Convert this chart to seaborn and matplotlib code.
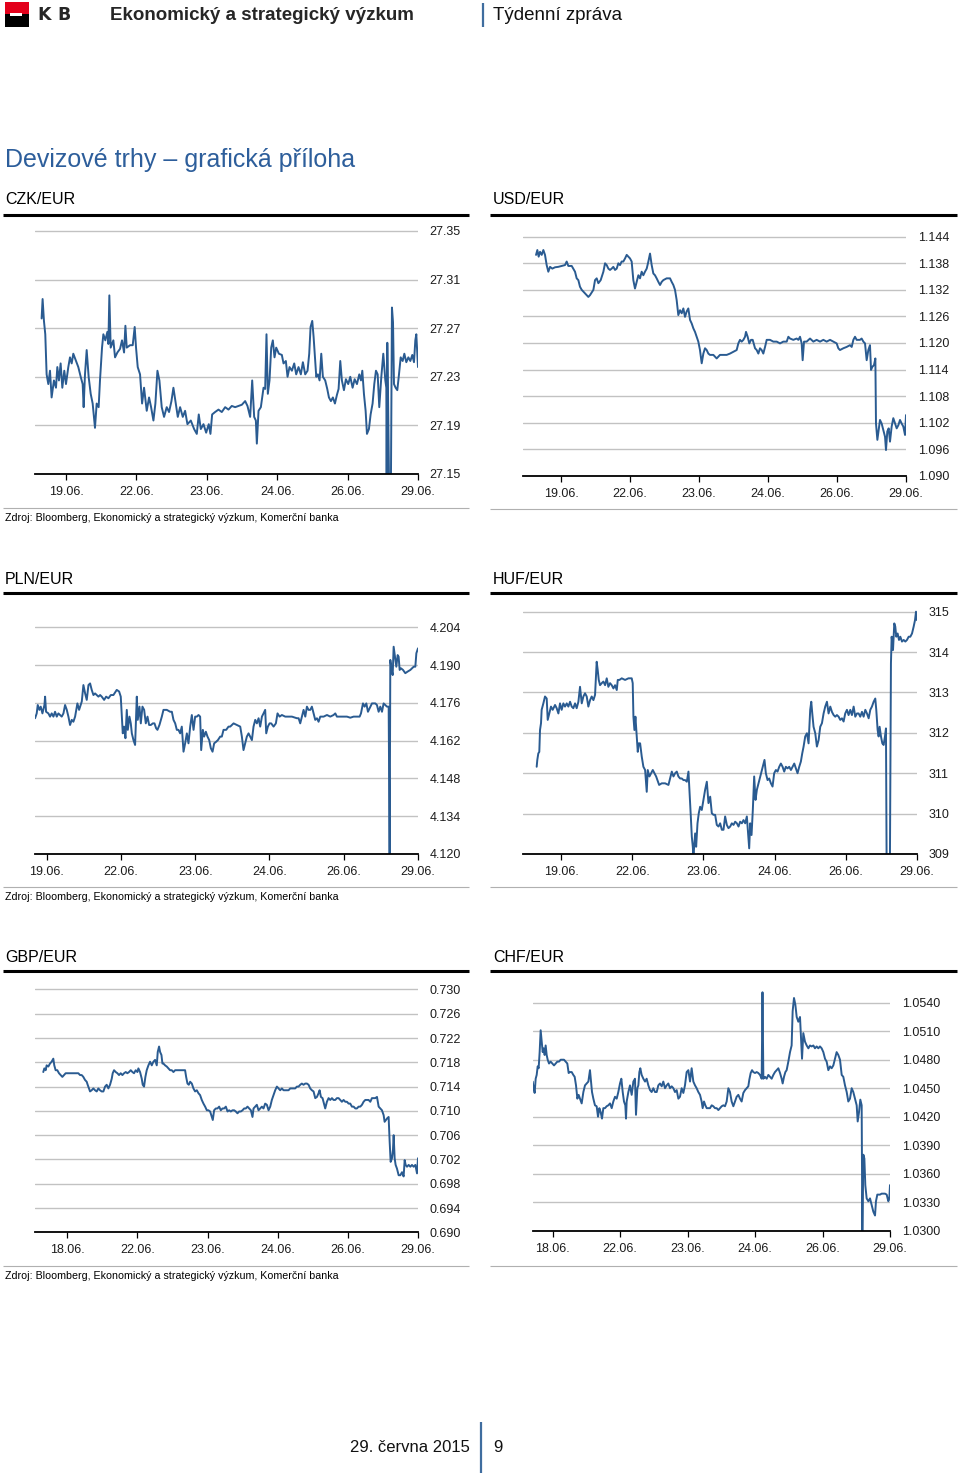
import matplotlib
matplotlib.use("Agg")
import matplotlib.pyplot as plt
import seaborn as sns
from matplotlib.lines import Line2D
from matplotlib.patches import Rectangle

# time axis: trading-day units, 0 = first labelled day, 5 = last label (29.06.)
day_labels_19 = ["19.06.", "22.06.", "23.06.", "24.06.", "26.06.", "29.06."]
day_labels_18 = ["18.06.", "22.06.", "23.06.", "24.06.", "26.06.", "29.06."]

# CZK/EUR
czk_t = [-0.346, -0.332, -0.313, -0.294, -0.275, -0.251, -0.227, -0.204, -0.171, -0.142,
         -0.123, -0.100, -0.076, -0.052, -0.024, 0.000, 0.033, 0.057, 0.081, 0.104,
         0.142, 0.175, 0.209, 0.237, 0.251, 0.270, 0.294, 0.322, 0.351, 0.379,
         0.412, 0.436, 0.464, 0.483, 0.512, 0.531, 0.559, 0.588, 0.602, 0.616,
         0.635, 0.673, 0.697, 0.730, 0.768, 0.796, 0.825, 0.844, 0.863, 0.910,
         0.948, 0.976, 0.995, 1.019, 1.052, 1.081, 1.109, 1.147, 1.180, 1.209,
         1.242, 1.270, 1.299, 1.327, 1.360, 1.393, 1.431, 1.464, 1.498, 1.526,
         1.559, 1.588, 1.621, 1.659, 1.692, 1.725, 1.773, 1.820, 1.858, 1.886,
         1.915, 1.953, 1.991, 2.028, 2.052, 2.076, 2.118, 2.166, 2.213, 2.261,
         2.308, 2.355, 2.403, 2.450, 2.498, 2.545, 2.578, 2.616, 2.645, 2.673,
         2.697, 2.711, 2.735, 2.768, 2.806, 2.829, 2.848, 2.867, 2.891, 2.915,
         2.938, 2.962, 2.986, 3.024, 3.066, 3.090, 3.123, 3.147, 3.175, 3.209,
         3.242, 3.270, 3.303, 3.336, 3.365, 3.398, 3.431, 3.455, 3.474, 3.498,
         3.517, 3.536, 3.555, 3.578, 3.602, 3.626, 3.649, 3.682, 3.711, 3.735,
         3.763, 3.791, 3.820, 3.848, 3.872, 3.896, 3.919, 3.948, 3.976, 4.009,
         4.038, 4.071, 4.100, 4.133, 4.166, 4.190, 4.209, 4.232, 4.256, 4.275,
         4.303, 4.327, 4.355, 4.379, 4.403, 4.427, 4.450, 4.479, 4.507, 4.536,
         4.550, 4.555, 4.564, 4.573, 4.588, 4.616, 4.630, 4.645, 4.659, 4.682,
         4.706, 4.730, 4.754, 4.782, 4.806, 4.834, 4.863, 4.891, 4.919, 4.943,
         4.962, 4.976, 5.000]
czk_v = [27.278, 27.294, 27.276, 27.265, 27.232, 27.224, 27.235, 27.213, 27.227, 27.221,
         27.238, 27.227, 27.241, 27.221, 27.235, 27.224, 27.238, 27.246, 27.241, 27.249,
         27.243, 27.238, 27.230, 27.224, 27.205, 27.232, 27.252, 27.230, 27.216, 27.208,
         27.188, 27.208, 27.205, 27.227, 27.254, 27.265, 27.260, 27.267, 27.257, 27.297,
         27.254, 27.260, 27.246, 27.250, 27.253, 27.260, 27.250, 27.272, 27.254, 27.256,
         27.256, 27.271, 27.254, 27.238, 27.232, 27.208, 27.221, 27.202, 27.213, 27.205,
         27.194, 27.208, 27.235, 27.227, 27.205, 27.197, 27.205, 27.201, 27.210, 27.221,
         27.208, 27.197, 27.205, 27.197, 27.202, 27.191, 27.194, 27.187, 27.183, 27.199,
         27.187, 27.191, 27.184, 27.191, 27.183, 27.199, 27.201, 27.203, 27.201, 27.205,
         27.203, 27.206, 27.205, 27.206, 27.207, 27.210, 27.206, 27.197, 27.227, 27.197,
         27.194, 27.175, 27.202, 27.205, 27.221, 27.220, 27.265, 27.216, 27.227, 27.254,
         27.260, 27.246, 27.254, 27.249, 27.248, 27.241, 27.243, 27.230, 27.238, 27.235,
         27.241, 27.232, 27.238, 27.232, 27.242, 27.232, 27.235, 27.249, 27.271, 27.276,
         27.263, 27.246, 27.230, 27.232, 27.227, 27.249, 27.230, 27.227, 27.220, 27.213,
         27.210, 27.213, 27.208, 27.215, 27.220, 27.243, 27.227, 27.219, 27.228, 27.224,
         27.230, 27.221, 27.228, 27.224, 27.232, 27.227, 27.235, 27.216, 27.202, 27.183,
         27.187, 27.199, 27.208, 27.224, 27.235, 27.232, 27.205, 27.230, 27.249, 27.227,
         27.221, 27.147, 27.258, 27.221, 27.147, 27.147, 27.287, 27.275, 27.224, 27.221,
         27.219, 27.232, 27.246, 27.243, 27.249, 27.242, 27.246, 27.243, 27.248, 27.242,
         27.260, 27.265, 27.238]
czk_ticks = [27.15, 27.19, 27.23, 27.27, 27.31, 27.35]

# USD/EUR
usd_t = [-0.362, -0.343, -0.324, -0.304, -0.280, -0.256, -0.232, -0.208, -0.184, -0.159,
         -0.126, -0.087, -0.039, 0.010, 0.058, 0.082, 0.106, 0.155, 0.203, 0.227,
         0.251, 0.275, 0.300, 0.324, 0.348, 0.372, 0.396, 0.420, 0.469, 0.493,
         0.517, 0.541, 0.575, 0.614, 0.638, 0.662, 0.686, 0.710, 0.734, 0.758,
         0.783, 0.807, 0.831, 0.855, 0.879, 0.903, 0.928, 0.952, 0.976, 1.000,
         1.024, 1.048, 1.072, 1.097, 1.121, 1.145, 1.169, 1.193, 1.217, 1.242,
         1.266, 1.290, 1.314, 1.338, 1.362, 1.386, 1.411, 1.435, 1.459, 1.483,
         1.531, 1.580, 1.604, 1.628, 1.652, 1.676, 1.700, 1.725, 1.749, 1.773,
         1.797, 1.821, 1.845, 1.870, 1.894, 1.918, 1.942, 1.966, 1.990, 2.014,
         2.039, 2.063, 2.087, 2.111, 2.135, 2.159, 2.208, 2.256, 2.280, 2.304,
         2.353, 2.401, 2.449, 2.498, 2.546, 2.570, 2.594, 2.618, 2.643, 2.667,
         2.681, 2.705, 2.729, 2.754, 2.778, 2.812, 2.836, 2.860, 2.884, 2.908,
         2.932, 2.957, 2.981, 3.029, 3.077, 3.126, 3.174, 3.222, 3.271, 3.295,
         3.319, 3.367, 3.415, 3.440, 3.464, 3.488, 3.502, 3.522, 3.560, 3.609,
         3.657, 3.705, 3.754, 3.802, 3.850, 3.899, 3.947, 3.995, 4.019, 4.043,
         4.092, 4.140, 4.188, 4.213, 4.237, 4.261, 4.285, 4.333, 4.357, 4.382,
         4.406, 4.430, 4.454, 4.478, 4.493, 4.512, 4.536, 4.556, 4.565, 4.585,
         4.604, 4.623, 4.647, 4.671, 4.696, 4.710, 4.729, 4.749, 4.768, 4.792,
         4.816, 4.841, 4.865, 4.889, 4.913, 4.937, 4.961, 4.986, 5.000]
usd_v = [1.1399, 1.1410, 1.1395, 1.1406, 1.1399, 1.1410, 1.1399, 1.1376, 1.1361, 1.1372,
         1.1368, 1.1371, 1.1372, 1.1374, 1.1376, 1.1384, 1.1374, 1.1374, 1.1361, 1.1346,
         1.1342, 1.1327, 1.1320, 1.1316, 1.1312, 1.1308, 1.1304, 1.1308, 1.1320, 1.1342,
         1.1346, 1.1335, 1.1342, 1.1361, 1.1380, 1.1376, 1.1368, 1.1365, 1.1368, 1.1372,
         1.1365, 1.1368, 1.1380, 1.1376, 1.1384, 1.1384, 1.1391, 1.1399, 1.1395, 1.1391,
         1.1384, 1.1342, 1.1323, 1.1338, 1.1353, 1.1346, 1.1361, 1.1353, 1.1361, 1.1368,
         1.1384, 1.1402, 1.1376, 1.1357, 1.1353, 1.1346, 1.1338, 1.1331, 1.1338, 1.1342,
         1.1346, 1.1346, 1.1338, 1.1331, 1.1320, 1.1297, 1.1263, 1.1274, 1.1267, 1.1278,
         1.1259, 1.1271, 1.1278, 1.1252, 1.1244, 1.1233, 1.1225, 1.1214, 1.1203, 1.1184,
         1.1154, 1.1176, 1.1188, 1.1184, 1.1176, 1.1173, 1.1173, 1.1165, 1.1169, 1.1173,
         1.1173, 1.1173, 1.1176, 1.1180, 1.1184, 1.1199, 1.1207, 1.1203, 1.1207, 1.1214,
         1.1225, 1.1214, 1.1199, 1.1207, 1.1207, 1.1188, 1.1184, 1.1176, 1.1188, 1.1184,
         1.1176, 1.1191, 1.1207, 1.1207, 1.1203, 1.1203, 1.1199, 1.1203, 1.1203, 1.1214,
         1.1210, 1.1207, 1.1210, 1.1207, 1.1214, 1.1199, 1.1161, 1.1203, 1.1203, 1.1210,
         1.1203, 1.1207, 1.1203, 1.1207, 1.1203, 1.1207, 1.1203, 1.1199, 1.1188, 1.1184,
         1.1188, 1.1191, 1.1195, 1.1191, 1.1207, 1.1214, 1.1207, 1.1207, 1.1210, 1.1203,
         1.1199, 1.1161, 1.1184, 1.1195, 1.1139, 1.1146, 1.1150, 1.1165, 1.1018, 1.0981,
         1.1003, 1.1026, 1.1018, 1.1003, 1.0988, 1.0958, 1.1000, 1.1007, 1.0977, 1.1011,
         1.1030, 1.1018, 1.1007, 1.1014, 1.1026, 1.1018, 1.1011, 1.0992, 1.1037]
usd_ticks = [1.090, 1.096, 1.102, 1.108, 1.114, 1.120, 1.126, 1.132, 1.138, 1.144]

# PLN/EUR
pln_t = [-0.157, -0.135, -0.121, -0.099, -0.081, -0.058, -0.031, -0.022, -0.009, 0.022,
         0.045, 0.067, 0.090, 0.112, 0.135, 0.157, 0.180, 0.202, 0.225, 0.247,
         0.270, 0.292, 0.314, 0.337, 0.359, 0.382, 0.413, 0.436, 0.472, 0.494,
         0.517, 0.539, 0.562, 0.584, 0.606, 0.629, 0.651, 0.674, 0.696, 0.719,
         0.741, 0.773, 0.800, 0.831, 0.863, 0.898, 0.943, 0.975, 0.997, 1.011,
         1.024, 1.042, 1.060, 1.078, 1.092, 1.114, 1.132, 1.146, 1.168, 1.190,
         1.213, 1.226, 1.249, 1.267, 1.289, 1.312, 1.334, 1.357, 1.379, 1.402,
         1.429, 1.451, 1.473, 1.491, 1.518, 1.550, 1.572, 1.617, 1.662, 1.685,
         1.707, 1.730, 1.752, 1.774, 1.797, 1.819, 1.842, 1.864, 1.887, 1.909,
         1.932, 1.954, 1.977, 1.999, 2.022, 2.044, 2.066, 2.080, 2.102, 2.120,
         2.143, 2.165, 2.188, 2.210, 2.233, 2.255, 2.282, 2.305, 2.336, 2.358,
         2.381, 2.417, 2.448, 2.471, 2.516, 2.561, 2.606, 2.628, 2.650, 2.673,
         2.695, 2.718, 2.740, 2.763, 2.785, 2.808, 2.830, 2.853, 2.875, 2.898,
         2.920, 2.942, 2.956, 2.978, 3.001, 3.023, 3.055, 3.086, 3.108, 3.136,
         3.167, 3.212, 3.257, 3.302, 3.369, 3.392, 3.414, 3.437, 3.459, 3.482,
         3.504, 3.526, 3.549, 3.571, 3.594, 3.616, 3.639, 3.661, 3.684, 3.729,
         3.774, 3.819, 3.863, 3.886, 3.908, 3.953, 3.998, 4.043, 4.088, 4.133,
         4.178, 4.214, 4.232, 4.259, 4.281, 4.304, 4.326, 4.349, 4.380, 4.403,
         4.425, 4.447, 4.470, 4.492, 4.515, 4.537, 4.560, 4.582, 4.605, 4.618,
         4.627, 4.645, 4.659, 4.672, 4.690, 4.708, 4.726, 4.739, 4.753, 4.771,
         4.798, 4.829, 4.861, 4.897, 4.942, 4.964, 4.978, 5.000]
pln_v = [4.1703, 4.1721, 4.1752, 4.1734, 4.1746, 4.1721, 4.1752, 4.1783, 4.1727, 4.1721,
         4.1709, 4.1721, 4.1709, 4.1727, 4.1709, 4.1721, 4.1715, 4.1709, 4.1721, 4.1752,
         4.1734, 4.1709, 4.1678, 4.1697, 4.1690, 4.1709, 4.1758, 4.1734, 4.1765, 4.1826,
         4.1795, 4.1771, 4.1826, 4.1832, 4.1808, 4.1789, 4.1795, 4.1789, 4.1783, 4.1789,
         4.1783, 4.1771, 4.1783, 4.1777, 4.1789, 4.1789, 4.1808, 4.1802, 4.1783, 4.1709,
         4.1647, 4.1672, 4.1629, 4.1734, 4.1660, 4.1709, 4.1684, 4.1647, 4.1622, 4.1604,
         4.1783, 4.1697, 4.1746, 4.1684, 4.1746, 4.1734, 4.1684, 4.1709, 4.1678, 4.1678,
         4.1684, 4.1684, 4.1666, 4.1660, 4.1678, 4.1709, 4.1734, 4.1734, 4.1727, 4.1727,
         4.1697, 4.1684, 4.1660, 4.1660, 4.1647, 4.1672, 4.1579, 4.1610, 4.1647, 4.1610,
         4.1672, 4.1715, 4.1660, 4.1709, 4.1709, 4.1715, 4.1709, 4.1585, 4.1660, 4.1635,
         4.1653, 4.1635, 4.1622, 4.1592, 4.1579, 4.1610, 4.1616, 4.1622, 4.1635, 4.1635,
         4.1660, 4.1660, 4.1672, 4.1672, 4.1684, 4.1678, 4.1672, 4.1635, 4.1585, 4.1610,
         4.1635, 4.1647, 4.1635, 4.1622, 4.1672, 4.1697, 4.1684, 4.1703, 4.1672, 4.1709,
         4.1721, 4.1734, 4.1647, 4.1672, 4.1684, 4.1684, 4.1672, 4.1684, 4.1721, 4.1709,
         4.1715, 4.1709, 4.1709, 4.1709, 4.1703, 4.1703, 4.1684, 4.1709, 4.1734, 4.1709,
         4.1746, 4.1734, 4.1734, 4.1746, 4.1721, 4.1697, 4.1703, 4.1690, 4.1709, 4.1709,
         4.1715, 4.1709, 4.1715, 4.1721, 4.1709, 4.1709, 4.1709, 4.1709, 4.1705, 4.1709,
         4.1709, 4.1709, 4.1721, 4.1758, 4.1746, 4.1758, 4.1727, 4.1740, 4.1758, 4.1758,
         4.1758, 4.1752, 4.1727, 4.1746, 4.1727, 4.1758, 4.1752, 4.1746, 4.1746, 4.1180,
         4.1919, 4.1882, 4.1863, 4.1968, 4.1931, 4.1894, 4.1937, 4.1931, 4.1882, 4.1888,
         4.1882, 4.1870, 4.1876, 4.1882, 4.1894, 4.1894, 4.1944, 4.1962]
pln_ticks = [4.120, 4.134, 4.148, 4.162, 4.176, 4.190, 4.204]

# HUF/EUR
huf_t = [-0.342, -0.333, -0.319, -0.305, -0.295, -0.281, -0.272, -0.248, -0.225, -0.201,
         -0.187, -0.164, -0.141, -0.117, -0.084, -0.061, -0.037, -0.014, 0.009, 0.033,
         0.056, 0.080, 0.103, 0.127, 0.150, 0.173, 0.197, 0.220, 0.244, 0.267,
         0.291, 0.314, 0.337, 0.361, 0.384, 0.408, 0.431, 0.455, 0.478, 0.501,
         0.515, 0.530, 0.548, 0.572, 0.595, 0.619, 0.642, 0.665, 0.689, 0.712,
         0.736, 0.759, 0.783, 0.797, 0.820, 0.853, 0.900, 0.947, 0.993, 1.007,
         1.017, 1.031, 1.045, 1.064, 1.078, 1.092, 1.111, 1.134, 1.157, 1.181,
         1.204, 1.218, 1.242, 1.265, 1.289, 1.312, 1.336, 1.354, 1.378, 1.415,
         1.462, 1.509, 1.532, 1.556, 1.579, 1.603, 1.626, 1.649, 1.673, 1.696,
         1.720, 1.743, 1.767, 1.790, 1.804, 1.823, 1.837, 1.851, 1.860, 1.884,
         1.898, 1.917, 1.935, 1.954, 1.977, 2.001, 2.024, 2.048, 2.071, 2.095,
         2.118, 2.141, 2.165, 2.188, 2.212, 2.235, 2.259, 2.282, 2.305, 2.329,
         2.352, 2.376, 2.399, 2.423, 2.446, 2.470, 2.493, 2.516, 2.540, 2.563,
         2.587, 2.610, 2.624, 2.643, 2.657, 2.676, 2.694, 2.713, 2.732, 2.751,
         2.774, 2.798, 2.821, 2.844, 2.858, 2.877, 2.901, 2.924, 2.948, 2.971,
         2.994, 3.018, 3.041, 3.065, 3.088, 3.112, 3.135, 3.158, 3.182, 3.205,
         3.229, 3.252, 3.276, 3.299, 3.322, 3.346, 3.369, 3.388, 3.407, 3.430,
         3.454, 3.477, 3.500, 3.515, 3.529, 3.547, 3.571, 3.594, 3.618, 3.641,
         3.665, 3.688, 3.711, 3.735, 3.758, 3.782, 3.805, 3.829, 3.852, 3.875,
         3.899, 3.922, 3.946, 3.969, 3.992, 4.016, 4.039, 4.063, 4.086, 4.110,
         4.133, 4.157, 4.180, 4.203, 4.227, 4.250, 4.274, 4.297, 4.321, 4.344,
         4.367, 4.391, 4.414, 4.428, 4.447, 4.461, 4.475, 4.494, 4.513, 4.531,
         4.550, 4.564, 4.573, 4.588, 4.606, 4.620, 4.634, 4.644, 4.663, 4.681,
         4.695, 4.709, 4.728, 4.747, 4.766, 4.789, 4.813, 4.836, 4.859, 4.883,
         4.906, 4.930, 4.953, 4.972, 4.986, 5.000]
huf_v = [311.16, 311.33, 311.49, 311.53, 312.07, 312.24, 312.57, 312.73, 312.90, 312.85,
         312.32, 312.48, 312.65, 312.57, 312.69, 312.61, 312.48, 312.73, 312.57, 312.73,
         312.65, 312.73, 312.65, 312.77, 312.65, 312.61, 312.73, 312.61, 312.77, 313.14,
         312.73, 312.90, 312.98, 312.90, 312.65, 312.81, 312.90, 312.81, 312.94, 313.76,
         313.56, 313.31, 313.18, 313.23, 313.27, 313.18, 313.35, 313.14, 313.23, 313.18,
         313.10, 313.18, 313.06, 313.31, 313.31, 313.35, 313.31, 313.35, 313.35, 313.23,
         312.40, 312.07, 312.40, 311.91, 311.53, 311.74, 311.74, 311.41, 311.16, 311.08,
         310.54, 311.08, 310.92, 311.00, 311.08, 311.00, 310.92, 310.83, 310.71, 310.75,
         310.75, 310.71, 310.87, 311.04, 310.92, 311.00, 311.04, 310.92, 310.87, 310.87,
         310.83, 310.83, 310.79, 311.04, 310.59, 309.93, 309.43, 309.18, 308.94, 309.51,
         309.18, 309.76, 310.01, 310.17, 310.09, 310.34, 310.59, 310.79, 310.26, 310.42,
         310.01, 309.97, 309.97, 309.72, 309.68, 309.76, 309.60, 309.60, 309.93, 309.72,
         309.64, 309.68, 309.76, 309.72, 309.80, 309.76, 309.68, 309.80, 309.76, 309.84,
         309.76, 309.93, 309.60, 309.14, 309.76, 309.47, 310.09, 310.92, 310.34, 310.59,
         310.75, 310.92, 311.08, 311.24, 311.33, 311.00, 310.83, 310.87, 310.75, 310.67,
         311.00, 311.08, 311.04, 311.16, 311.24, 311.16, 311.04, 311.16, 311.12, 311.16,
         311.08, 311.16, 311.24, 311.12, 311.00, 311.16, 311.29, 311.49, 311.66, 311.91,
         311.99, 311.74, 312.57, 312.77, 312.48, 312.15, 311.99, 311.66, 311.82, 312.15,
         312.24, 312.48, 312.65, 312.77, 312.48, 312.65, 312.52, 312.44, 312.40, 312.44,
         312.40, 312.32, 312.36, 312.28, 312.48, 312.57, 312.44, 312.57, 312.44, 312.65,
         312.40, 312.48, 312.48, 312.40, 312.52, 312.40, 312.57, 312.48, 312.36, 312.57,
         312.65, 312.77, 312.85, 312.57, 312.07, 311.91, 312.15, 311.91, 311.74, 311.70,
         311.91, 312.11, 308.90, 308.90, 308.90, 308.90, 313.72, 314.38, 314.05, 314.71,
         314.63, 314.38, 314.46, 314.30, 314.38, 314.26, 314.30, 314.26, 314.30, 314.38,
         314.38, 314.46, 314.63, 314.79, 315.00, 314.79]
huf_ticks = [309, 310, 311, 312, 313, 314, 315]

# GBP/EUR
gbp_t = [-0.343, -0.328, -0.309, -0.295, -0.271, -0.247, -0.224, -0.200, -0.186, -0.167,
         -0.143, -0.119, -0.095, -0.071, -0.048, -0.024, 0.000, 0.024, 0.048, 0.086,
         0.124, 0.157, 0.181, 0.205, 0.228, 0.252, 0.276, 0.290, 0.309, 0.324,
         0.347, 0.371, 0.395, 0.419, 0.442, 0.466, 0.490, 0.514, 0.538, 0.561,
         0.585, 0.609, 0.633, 0.647, 0.666, 0.690, 0.714, 0.737, 0.761, 0.785,
         0.809, 0.833, 0.856, 0.880, 0.904, 0.928, 0.951, 0.975, 0.999, 1.013,
         1.037, 1.061, 1.075, 1.094, 1.113, 1.132, 1.156, 1.180, 1.204, 1.227,
         1.251, 1.275, 1.289, 1.308, 1.323, 1.342, 1.356, 1.370, 1.394, 1.418,
         1.442, 1.465, 1.489, 1.513, 1.537, 1.560, 1.584, 1.608, 1.632, 1.656,
         1.679, 1.694, 1.713, 1.732, 1.751, 1.775, 1.798, 1.822, 1.846, 1.870,
         1.893, 1.917, 1.941, 1.965, 1.989, 2.012, 2.036, 2.060, 2.074, 2.093,
         2.117, 2.141, 2.165, 2.188, 2.212, 2.236, 2.260, 2.284, 2.307, 2.331,
         2.355, 2.379, 2.402, 2.426, 2.450, 2.474, 2.498, 2.521, 2.545, 2.569,
         2.593, 2.617, 2.640, 2.655, 2.678, 2.702, 2.726, 2.750, 2.774, 2.797,
         2.821, 2.845, 2.869, 2.893, 2.916, 2.940, 2.964, 2.988, 3.011, 3.035,
         3.059, 3.083, 3.107, 3.130, 3.154, 3.178, 3.202, 3.226, 3.249, 3.273,
         3.297, 3.321, 3.344, 3.368, 3.392, 3.416, 3.440, 3.463, 3.487, 3.511,
         3.535, 3.559, 3.582, 3.597, 3.616, 3.639, 3.663, 3.677, 3.701, 3.725,
         3.749, 3.773, 3.796, 3.820, 3.844, 3.868, 3.891, 3.915, 3.939, 3.963,
         3.987, 4.010, 4.034, 4.058, 4.082, 4.106, 4.129, 4.153, 4.177, 4.201,
         4.224, 4.248, 4.272, 4.296, 4.320, 4.343, 4.367, 4.391, 4.415, 4.439,
         4.462, 4.486, 4.510, 4.524, 4.543, 4.562, 4.581, 4.596, 4.610, 4.629,
         4.643, 4.653, 4.667, 4.681, 4.700, 4.724, 4.748, 4.772, 4.795, 4.810,
         4.824, 4.843, 4.867, 4.891, 4.914, 4.938, 4.962, 4.986, 5.000]
gbp_v = [0.7164, 0.7170, 0.7167, 0.7175, 0.7173, 0.7178, 0.7181, 0.7186, 0.7175, 0.7167,
         0.7167, 0.7162, 0.7159, 0.7156, 0.7159, 0.7162, 0.7162, 0.7162, 0.7162, 0.7162,
         0.7162, 0.7162, 0.7159, 0.7159, 0.7156, 0.7151, 0.7148, 0.7143, 0.7137, 0.7132,
         0.7134, 0.7137, 0.7134, 0.7132, 0.7137, 0.7134, 0.7132, 0.7132, 0.7140, 0.7143,
         0.7137, 0.7143, 0.7153, 0.7162, 0.7167, 0.7164, 0.7162, 0.7159, 0.7162, 0.7159,
         0.7162, 0.7164, 0.7162, 0.7164, 0.7167, 0.7164, 0.7162, 0.7167, 0.7164, 0.7170,
         0.7164, 0.7153, 0.7143, 0.7140, 0.7156, 0.7167, 0.7175, 0.7181, 0.7175, 0.7181,
         0.7184, 0.7175, 0.7197, 0.7206, 0.7197, 0.7192, 0.7178, 0.7178, 0.7175, 0.7173,
         0.7170, 0.7167, 0.7167, 0.7164, 0.7167, 0.7167, 0.7167, 0.7167, 0.7167, 0.7167,
         0.7167, 0.7156, 0.7145, 0.7143, 0.7148, 0.7145, 0.7137, 0.7132, 0.7134, 0.7129,
         0.7126, 0.7118, 0.7112, 0.7107, 0.7101, 0.7101, 0.7099, 0.7090, 0.7085, 0.7101,
         0.7104, 0.7104, 0.7107, 0.7101, 0.7104, 0.7104, 0.7107, 0.7099, 0.7101, 0.7099,
         0.7101, 0.7101, 0.7099, 0.7096, 0.7099, 0.7099, 0.7101, 0.7104, 0.7104, 0.7107,
         0.7104, 0.7101, 0.7090, 0.7104, 0.7107, 0.7110, 0.7101, 0.7104, 0.7107, 0.7104,
         0.7112, 0.7110, 0.7101, 0.7107, 0.7118, 0.7126, 0.7134, 0.7140, 0.7137, 0.7134,
         0.7137, 0.7134, 0.7134, 0.7134, 0.7134, 0.7137, 0.7137, 0.7137, 0.7137, 0.7140,
         0.7140, 0.7143, 0.7145, 0.7143, 0.7145, 0.7145, 0.7143, 0.7137, 0.7134, 0.7132,
         0.7121, 0.7123, 0.7129, 0.7134, 0.7123, 0.7121, 0.7110, 0.7104, 0.7115, 0.7121,
         0.7118, 0.7121, 0.7118, 0.7118, 0.7121, 0.7121, 0.7118, 0.7115, 0.7118, 0.7115,
         0.7115, 0.7112, 0.7112, 0.7107, 0.7107, 0.7104, 0.7104, 0.7107, 0.7107, 0.7110,
         0.7115, 0.7118, 0.7118, 0.7118, 0.7115, 0.7121, 0.7121, 0.7121, 0.7123, 0.7107,
         0.7104, 0.7101, 0.7093, 0.7082, 0.7085, 0.7088, 0.7090, 0.7049, 0.7016, 0.7022,
         0.7036, 0.7060, 0.7022, 0.7011, 0.7005, 0.6994, 0.6994, 0.6999, 0.6992, 0.7019,
         0.7011, 0.7008, 0.7011, 0.7008, 0.7011, 0.7008, 0.7011, 0.6997, 0.7022]
gbp_ticks = [0.690, 0.694, 0.698, 0.702, 0.706, 0.710, 0.714, 0.718, 0.722, 0.726, 0.730]

# CHF/EUR
chf_t = [-0.296, -0.282, -0.267, -0.252, -0.237, -0.222, -0.208, -0.193, -0.178, -0.163,
         -0.148, -0.133, -0.119, -0.104, -0.089, -0.074, -0.054, -0.030, -0.005, 0.020,
         0.044, 0.069, 0.094, 0.119, 0.143, 0.168, 0.193, 0.217, 0.237, 0.257,
         0.282, 0.306, 0.326, 0.346, 0.366, 0.385, 0.405, 0.430, 0.455, 0.479,
         0.504, 0.529, 0.553, 0.568, 0.583, 0.603, 0.627, 0.652, 0.672, 0.692,
         0.711, 0.731, 0.751, 0.776, 0.800, 0.825, 0.850, 0.875, 0.899, 0.924,
         0.949, 0.973, 0.998, 1.018, 1.038, 1.057, 1.077, 1.087, 1.097, 1.122,
         1.146, 1.171, 1.196, 1.220, 1.235, 1.255, 1.270, 1.285, 1.299, 1.319,
         1.344, 1.369, 1.393, 1.418, 1.443, 1.467, 1.492, 1.517, 1.542, 1.566,
         1.591, 1.616, 1.640, 1.665, 1.690, 1.714, 1.739, 1.764, 1.789, 1.813,
         1.838, 1.863, 1.887, 1.912, 1.937, 1.961, 1.986, 2.011, 2.036, 2.060,
         2.085, 2.110, 2.134, 2.159, 2.184, 2.208, 2.223, 2.243, 2.263, 2.283,
         2.307, 2.332, 2.357, 2.381, 2.406, 2.431, 2.456, 2.480, 2.505, 2.530,
         2.554, 2.579, 2.604, 2.628, 2.653, 2.678, 2.703, 2.727, 2.752, 2.777,
         2.801, 2.826, 2.851, 2.875, 2.900, 2.915, 2.935, 2.955, 2.974, 2.999,
         3.024, 3.048, 3.073, 3.098, 3.110, 3.123, 3.147, 3.172, 3.197, 3.221,
         3.246, 3.271, 3.295, 3.320, 3.345, 3.370, 3.394, 3.409, 3.429, 3.449,
         3.468, 3.493, 3.518, 3.542, 3.557, 3.577, 3.597, 3.617, 3.641, 3.666,
         3.681, 3.696, 3.715, 3.740, 3.765, 3.790, 3.814, 3.839, 3.864, 3.888,
         3.913, 3.938, 3.962, 3.987, 4.012, 4.037, 4.061, 4.086, 4.111, 4.135,
         4.160, 4.185, 4.209, 4.234, 4.259, 4.284, 4.308, 4.333, 4.358, 4.382,
         4.407, 4.432, 4.456, 4.481, 4.506, 4.521, 4.541, 4.560, 4.580, 4.590,
         4.605, 4.620, 4.634, 4.654, 4.679, 4.704, 4.728, 4.753, 4.778, 4.792,
         4.812, 4.852, 4.876, 4.901, 4.926, 4.951, 4.975, 4.990, 5.000]
chf_v = [1.0457, 1.0450, 1.0445, 1.0460, 1.0464, 1.0473, 1.0471, 1.0488, 1.0511, 1.0499,
         1.0488, 1.0492, 1.0485, 1.0495, 1.0485, 1.0480, 1.0476, 1.0478, 1.0476, 1.0474,
         1.0476, 1.0478, 1.0478, 1.0480, 1.0480, 1.0480, 1.0478, 1.0476, 1.0466, 1.0467,
         1.0467, 1.0464, 1.0462, 1.0453, 1.0439, 1.0443, 1.0439, 1.0434, 1.0446, 1.0453,
         1.0455, 1.0457, 1.0469, 1.0457, 1.0446, 1.0439, 1.0432, 1.0431, 1.0420, 1.0429,
         1.0425, 1.0418, 1.0429, 1.0429, 1.0431, 1.0432, 1.0434, 1.0429, 1.0436, 1.0441,
         1.0439, 1.0446, 1.0455, 1.0460, 1.0446, 1.0436, 1.0432, 1.0418, 1.0436, 1.0446,
         1.0453, 1.0443, 1.0457, 1.0460, 1.0422, 1.0450, 1.0453, 1.0467, 1.0471, 1.0464,
         1.0460, 1.0457, 1.0460, 1.0453, 1.0448, 1.0446, 1.0450, 1.0446, 1.0446, 1.0453,
         1.0455, 1.0452, 1.0457, 1.0450, 1.0453, 1.0455, 1.0450, 1.0452, 1.0450, 1.0446,
         1.0448, 1.0439, 1.0441, 1.0450, 1.0445, 1.0453, 1.0467, 1.0469, 1.0457, 1.0471,
         1.0457, 1.0453, 1.0450, 1.0446, 1.0443, 1.0436, 1.0429, 1.0436, 1.0432, 1.0429,
         1.0429, 1.0429, 1.0432, 1.0431, 1.0429, 1.0429, 1.0427, 1.0429, 1.0431, 1.0432,
         1.0431, 1.0436, 1.0450, 1.0446, 1.0436, 1.0431, 1.0436, 1.0441, 1.0443, 1.0439,
         1.0436, 1.0445, 1.0448, 1.0450, 1.0452, 1.0459, 1.0466, 1.0469, 1.0467, 1.0466,
         1.0467, 1.0466, 1.0464, 1.0460, 1.0551, 1.0460, 1.0462, 1.0460, 1.0464, 1.0462,
         1.0460, 1.0464, 1.0467, 1.0469, 1.0471, 1.0466, 1.0460, 1.0455, 1.0462, 1.0467,
         1.0469, 1.0478, 1.0488, 1.0495, 1.0531, 1.0545, 1.0538, 1.0525, 1.0520, 1.0525,
         1.0502, 1.0481, 1.0508, 1.0499, 1.0495, 1.0492, 1.0495, 1.0494, 1.0495, 1.0492,
         1.0494, 1.0492, 1.0494, 1.0492, 1.0488, 1.0481, 1.0478, 1.0469, 1.0473, 1.0471,
         1.0474, 1.0481, 1.0488, 1.0485, 1.0480, 1.0464, 1.0462, 1.0453, 1.0446, 1.0436,
         1.0439, 1.0450, 1.0446, 1.0439, 1.0432, 1.0415, 1.0425, 1.0438, 1.0432, 1.0298,
         1.0380, 1.0376, 1.0348, 1.0334, 1.0331, 1.0334, 1.0327, 1.0320, 1.0316, 1.0331,
         1.0338, 1.0338, 1.0339, 1.0339, 1.0339, 1.0338, 1.0331, 1.0334, 1.0348]
chf_ticks = [1.0300, 1.0330, 1.0360, 1.0390, 1.0420, 1.0450, 1.0480, 1.0510, 1.0540]

source_text = "Zdroj: Bloomberg, Ekonomický a strategický výzkum, Komerční banka"

sns.set_theme(style="white")
plt.rcParams['font.family'] = ['Liberation Sans', 'DejaVu Sans']

LINE = '#2a5b91'
TITLE_BLUE = '#2d5e9b'
GRID = '#c2c2c2'
TXT = '#1c1c1c'

W, H = 960, 1475
fig = plt.figure(figsize=(9.6, 14.75), dpi=100)


def fx(x):
    return x / W


def fy(y):
    return 1 - y / H


def hline(x0, x1, y, lw, color):
    fig.add_artist(Line2D([fx(x0), fx(x1)], [fy(y), fy(y)], lw=lw, color=color,
                          transform=fig.transFigure, solid_capstyle='butt'))


def vline(x, y0, y1, lw, color):
    fig.add_artist(Line2D([fx(x), fx(x)], [fy(y0), fy(y1)], lw=lw, color=color,
                          transform=fig.transFigure, solid_capstyle='butt'))


def panel(t, v, ticks, fmt, xlabels, box, xlim, ylim):
    l, tp, r, b = box
    ax = fig.add_axes([l / W, 1 - b / H, (r - l) / W, (b - tp) / H])
    sns.lineplot(x=t, y=v, ax=ax, color=LINE, lw=1.4, estimator=None, sort=False)
    ax.set_xlim(*xlim)
    ax.set_ylim(*ylim)
    ax.set_yticks(ticks)
    ax.set_yticklabels([fmt.format(y) for y in ticks])
    ax.yaxis.tick_right()
    ax.set_xticks(range(6))
    ax.set_xticklabels(xlabels)
    ax.grid(axis='y', color=GRID, lw=1.0)
    ax.grid(axis='x', visible=False)
    ax.set_axisbelow(True)
    for s in ['top', 'left', 'right']:
        ax.spines[s].set_visible(False)
    ax.spines['bottom'].set_color('black')
    ax.spines['bottom'].set_linewidth(1.3)
    ax.tick_params(axis='y', length=0, pad=8.5, labelsize=9, labelcolor=TXT,
                   left=False, right=False)
    ax.tick_params(axis='x', bottom=True, length=4, width=0.9, color='black',
                   pad=4.5, labelsize=9, labelcolor=TXT, direction='out')
    ax.set_xlabel('')
    ax.set_ylabel('')
    ax.patch.set_alpha(0)
    return ax


def header_block(title, x, y_title, y_bar, x0, x1, y_rule, y_src=None):
    fig.text(fx(x), fy(y_title), title, fontsize=11.5, color='black', va='center')
    hline(x0, x1, y_bar, 2.2, 'black')
    hline(x0, x1, y_rule, 0.8, '#b0b0b0')
    if y_src is not None:
        fig.text(fx(5), fy(y_src), source_text, fontsize=7.7, color='black', va='center')


# page header
fig.add_artist(Rectangle((fx(5), fy(14)), 24 / W, 12 / H, transform=fig.transFigure,
                         color='#e3001b', lw=0))
fig.add_artist(Rectangle((fx(5), fy(27)), 24 / W, 13 / H, transform=fig.transFigure,
                         color='black', lw=0))
fig.add_artist(Rectangle((fx(10), fy(15.5)), 12 / W, 2.5 / H, transform=fig.transFigure,
                         color='white', lw=0))
fig.text(fx(37), fy(14.5), "K", fontsize=12.5, fontweight='bold', va='center',
         family='DejaVu Sans')
fig.text(fx(57), fy(14.5), "B", fontsize=12.5, fontweight='bold', va='center',
         family='DejaVu Sans')
fig.text(fx(110), fy(15), "Ekonomický a strategický výzkum", fontsize=13.5,
         fontweight='bold', va='center')
vline(483, 3, 27, 1.6, '#3f6d9f')
fig.text(fx(493), fy(15), "Týdenní zpráva", fontsize=13.5, va='center', color='#111111')

fig.text(fx(5), fy(160), "Devizové trhy – grafická příloha", fontsize=18,
         color=TITLE_BLUE, va='center')

# row 1
header_block("CZK/EUR", 5, 200, 214.5, 3, 469, 508, 518)
header_block("USD/EUR", 493, 200, 214.5, 490, 957, 508.5)
panel(czk_t, czk_v, czk_ticks, "{:.2f}", day_labels_19,
      (35, 226, 418, 474), (-0.44, 5.0), (27.15, 27.3541))
panel(usd_t, usd_v, usd_ticks, "{:.3f}", day_labels_19,
      (523, 231, 906, 475.7), (-0.551, 5.0), (1.090, 1.1453))

# row 2
header_block("PLN/EUR", 5, 579, 593, 3, 469, 887, 897)
header_block("HUF/EUR", 493, 579, 593, 490, 957, 887)
panel(pln_t, pln_v, pln_ticks, "{:.3f}", day_labels_19,
      (35, 620, 418, 854), (-0.158, 5.0), (4.120, 4.2067))
panel(huf_t, huf_v, huf_ticks, "{:.0f}", day_labels_19,
      (523, 603, 917, 854), (-0.534, 5.0), (309, 315.215))

# row 3
header_block("GBP/EUR", 5, 957, 971, 3, 469, 1265.5, 1276)
header_block("CHF/EUR", 493, 957, 971, 490, 957, 1265.5)
panel(gbp_t, gbp_v, gbp_ticks, "{:.3f}", day_labels_18,
      (35, 984, 418, 1232.3), (-0.461, 5.0), (0.690, 0.7309))
panel(chf_t, chf_v, chf_ticks, "{:.4f}", day_labels_18,
      (532.7, 988, 890, 1230.7), (-0.296, 5.0), (1.0300, 1.05555))

# footer
fig.text(fx(470), fy(1448), "29. června 2015", fontsize=12, ha='right', va='center',
         color='#111111')
vline(481, 1422, 1473, 1.6, '#3f6d9f')
fig.text(fx(493), fy(1448), "9", fontsize=12, va='center', color='#111111')

fig.savefig("out.png", dpi=100)
